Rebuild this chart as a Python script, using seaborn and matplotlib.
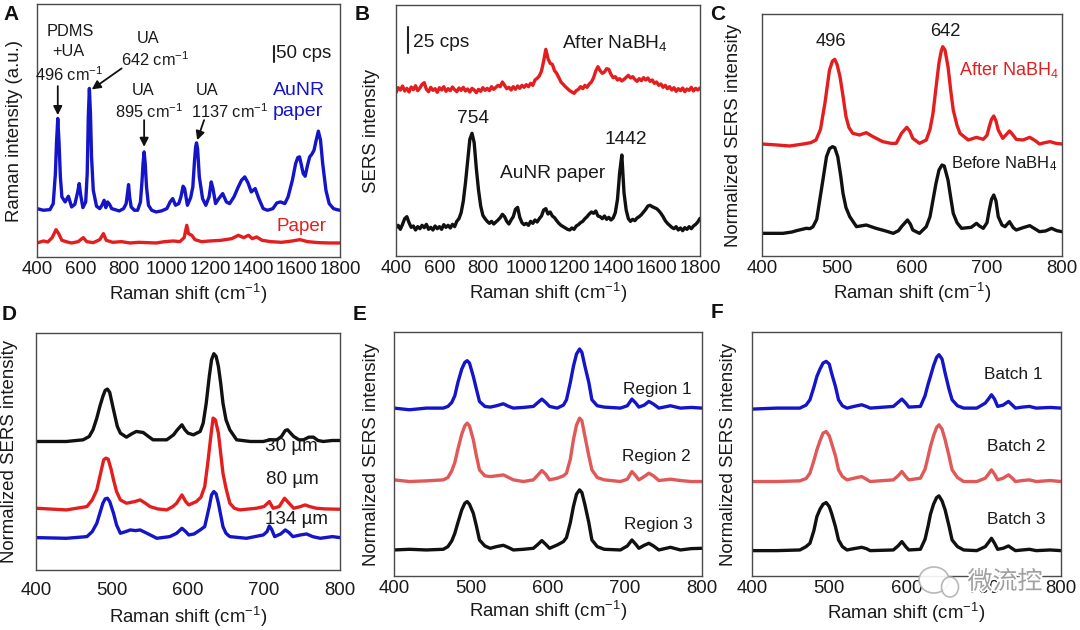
import numpy as np
import matplotlib
matplotlib.use("Agg")
import matplotlib.pyplot as plt
import matplotlib.patheffects as pe
from matplotlib.patches import Ellipse
import seaborn as sns

# ---------------- DATA (intensities in arbitrary units) ----------------
# Panel A
a_blue_x = [400,430,460,475,485,490,496,502,508,515,530,545,560,575,588,595,602,612,625,632,637,642,647,652,660,
            675,690,700,710,718,726,735,745,760,780,800,812,818,823,828,835,850,865,878,885,890,895,900,906,915,
            930,950,975,1000,1015,1027,1040,1055,1065,1075,1082,1095,1110,1120,1128,1133,1137,1142,1150,1165,
            1180,1195,1205,1213,1225,1240,1258,1275,1290,1310,1330,1345,1360,1375,1390,1408,1425,1445,1465,1490,
            1508,1525,1545,1560,1580,1595,1605,1613,1620,1630,1639,1650,1660,1670,1680,1690,1700,1710,1720,1735,
            1750,1770,1785,1800]
a_blue_y = [145,140,142,160,250,340,415,340,240,180,165,182,150,158,195,220,185,148,165,250,420,505,430,300,200,
            152,145,155,170,148,165,158,145,142,138,145,160,190,217,180,150,140,140,165,225,280,315,280,210,155,
            140,135,138,145,165,175,155,160,180,212,205,155,178,210,290,330,342,325,240,175,
            155,180,225,205,160,175,190,165,160,180,210,230,240,222,195,205,175,145,140,145,
            162,165,160,180,230,280,298,300,280,250,242,275,300,308,320,350,377,350,280,200,
            160,145,142,140]
a_red_x = [400,430,450,470,488,500,515,540,560,590,614,630,660,690,707,720,750,790,830,870,910,950,990,1030,1060,
           1080,1092,1100,1115,1130,1160,1200,1250,1300,1330,1355,1377,1395,1415,1440,1480,1530,1580,1615,1650,
           1700,1750,1800]
a_red_y = [42,48,45,58,82,70,50,45,42,46,58,46,43,52,70,50,44,46,42,44,43,42,46,48,46,
           58,95,70,65,52,46,48,50,55,65,58,65,55,60,50,46,44,48,52,46,
           43,42,42]

# Panel B (sampled every 10 cm-1 from 400 to 1800)
b_x = np.arange(400, 1801, 10)
b_red_y = [490,505,498,510,495,503,492,507,499,511,
           496,504,515,520,500,493,506,497,502,491,
           505,498,508,494,502,496,507,499,493,504,
           497,506,495,501,492,503,498,490,500,494,
           505,497,503,496,508,500,506,512,508,522,
           512,502,506,498,508,500,510,503,512,506,
           514,508,518,512,528,533,540,555,585,620,
           592,578,575,556,548,535,522,515,508,502,
           496,492,488,496,500,508,502,512,506,516,
           522,535,555,568,556,548,552,562,560,545,
           535,538,528,532,525,530,536,542,534,538,
           530,524,532,526,535,528,534,524,528,518,
           522,512,516,506,512,502,508,498,505,494,
           502,496,504,493,501,497,506,495,503,498,
           504]
b_black_y = [85,92,80,95,112,118,100,86,90,78,
             88,82,92,85,95,80,86,78,90,82,
             88,80,94,86,92,84,95,88,104,112,
             130,165,220,285,350,368,340,262,198,150,
             122,112,104,98,104,96,102,108,115,125,
             118,104,96,108,118,140,146,116,100,94,
             98,92,104,98,108,102,112,120,138,142,
             126,132,120,115,106,98,92,88,84,80,
             78,84,80,90,94,100,104,112,118,126,
             132,128,135,120,118,112,120,110,116,108,
             114,130,170,250,303,190,138,112,104,110,
             106,114,118,124,132,140,150,152,148,145,
             142,136,128,118,106,98,92,86,82,88,
             78,84,76,85,80,88,82,90,95,102,
             113]

# Panel C
c_red_x = [400,420,437,455,465,472,478,484,490,494,497,500,504,508,512,516,521,530,539,548,561,572,579,586,593,597,
           601,610,619,624,628,632,636,639,641,644,648,652,655,660,664,675,686,695,700,703,706,709,712,715,721,726,
           730,734,739,748,757,765,770,777,784,792,800]
c_red_y = [336,333,330,336,340,348,380,460,558,585,590,575,538,480,418,385,368,363,370,358,343,338,338,368,386,375,
           353,338,348,380,428,505,580,615,628,618,568,490,438,392,368,348,356,350,362,388,410,420,405,378,353,365,
           375,365,350,348,356,345,336,340,343,338,336]
c_black_x = [400,415,428,440,446,459,464,468,473,477,481,486,490,494,497,501,505,508,512,517,526,539,552,565,575,582,
             586,594,598,601,610,619,624,628,632,636,640,643,648,652,655,660,666,679,686,690,695,700,703,706,709,712,
             715,720,724,730,735,739,748,757,765,770,778,786,793,800]
c_black_y = [68,68,68,72,76,83,82,88,110,168,225,298,322,328,325,298,240,188,145,118,88,93,83,75,68,76,
             88,108,95,78,68,88,118,168,218,258,273,270,228,170,128,100,83,86,98,90,83,100,138,170,183,165,
             118,93,88,103,85,78,85,91,80,73,75,83,76,73]

# Panel D
d_black_x = [400,440,462,470,475,480,484,488,491,494,497,502,507,511,519,526,532,541,548,554,572,581,586,592,596,600,
             607,616,620,624,628,631,634,637,640,643,646,650,655,664,682,699,708,717,723,728,731,735,739,746,752,759,
             765,771,778,790,800]
d_black_y = [385,385,390,400,420,455,490,520,538,542,532,480,430,410,398,408,415,412,400,390,390,405,420,435,420,410,
             405,415,440,500,580,630,648,640,610,560,500,450,420,390,385,385,390,390,400,418,420,410,400,390,390,398,
             398,388,385,388,388]
d_red_x = [400,440,467,474,480,485,489,492,495,499,502,506,511,519,530,537,544,550,560,572,580,585,592,597,601,611,
           617,622,626,630,633,636,640,643,646,650,655,661,668,690,700,707,712,720,727,733,739,748,754,760,769,780,800]
d_red_y = [185,180,190,210,240,290,330,335,332,300,270,235,210,200,205,210,200,190,183,180,190,200,225,205,195,205,
           218,250,320,400,455,450,410,350,290,245,200,185,180,185,190,205,185,190,215,200,185,190,195,190,185,183,182]
d_blue_x = [400,440,467,474,480,484,488,491,494,497,502,506,511,518,524,531,537,546,559,576,585,592,597,601,608,616,
            622,625,628,631,634,637,640,643,646,650,655,677,699,704,707,710,714,722,728,733,738,748,756,764,774,790,800]
d_blue_y = [97,95,100,115,140,170,200,213,215,205,170,135,110,115,120,118,120,110,95,100,110,125,115,105,108,120,
            130,160,190,225,235,228,200,165,130,110,100,95,105,115,132,122,100,108,120,112,100,105,108,100,95,100,97]

# Panel E
e_x = [400,420,442,464,470,475,479,483,488,492,495,498,503,507,511,518,525,533,542,549,555,568,581,587,592,597,602,
       612,620,624,629,633,637,641,644,648,653,657,664,673,694,703,709,714,718,725,731,737,744,759,772,786,800]
e_blue_y = [503,498,503,503,508,520,540,580,620,640,645,638,598,560,523,508,506,510,516,508,503,505,508,520,530,520,508,
            503,512,528,580,628,665,680,670,628,580,528,510,506,503,510,530,518,506,512,523,515,503,510,503,505,503]
e_pink_y = [288,283,285,288,295,315,340,380,425,450,458,450,408,360,318,300,298,300,303,295,288,283,288,303,316,305,288,
            293,300,308,350,408,452,473,465,418,360,318,295,288,283,290,313,300,288,298,308,300,286,290,286,283,283]
e_black_y = [78,80,78,80,88,105,128,160,198,218,223,215,188,150,108,90,83,88,92,85,78,80,83,95,106,95,83,
             93,103,115,160,208,245,258,250,213,160,108,88,80,78,90,108,95,83,92,98,90,78,86,78,82,83]

# Panel F
f_x = [400,432,462,470,475,480,484,488,492,496,500,503,508,512,517,523,532,542,548,553,583,589,594,599,603,618,624,
       628,631,635,639,642,646,650,655,659,666,674,691,702,706,710,714,718,725,732,737,741,750,759,768,786,800]
f_blue_y = [500,503,503,512,528,565,598,620,638,643,635,608,568,528,510,503,508,513,508,503,508,520,530,518,506,508,540,
            575,598,630,655,663,650,608,560,528,510,503,503,518,530,543,530,508,512,523,512,503,506,508,503,505,503]
f_pink_y = [283,283,285,292,308,345,378,405,428,433,420,398,360,318,298,288,293,298,290,283,288,300,313,298,288,293,320,
            358,388,420,445,453,440,408,360,318,295,283,283,293,305,318,305,288,293,303,293,283,286,288,283,286,283]
f_black_y = [76,76,78,88,98,135,178,200,215,220,208,188,148,108,88,78,82,86,82,76,78,90,103,88,78,80,110,
             150,185,215,235,240,225,198,150,108,88,78,76,88,100,113,98,80,83,90,82,76,78,80,76,78,76]

xticks_wide = [400, 600, 800, 1000, 1200, 1400, 1600, 1800]
xticks_narrow = [400, 500, 600, 700, 800]

# ---------------- STYLE ----------------
sns.set_style("white")
plt.rcParams['font.family'] = ['Liberation Sans', 'DejaVu Sans']
plt.rcParams['mathtext.fontset'] = 'custom'
plt.rcParams['mathtext.rm'] = 'Liberation Sans'
plt.rcParams['mathtext.it'] = 'Liberation Sans:italic'
plt.rcParams['mathtext.default'] = 'regular'

BLUE = '#1414c8'
RED = '#e41e1e'
PINK = '#e05858'
BLACK = '#111111'
FRAME = '#4a4a4a'
TXT = '#1a1a1a'
LW = 2.4
FS = 13.4

W, H = 1080, 630
fig = plt.figure(figsize=(W / 100, H / 100), dpi=100)


def add_ax(l, r, t, b):
    return fig.add_axes([l / W, 1 - b / H, (r - l) / W, (b - t) / H])


def style(ax, xlim, ylim, xticks, yticks, ylabel, ylx, tpad=3.0, lpad=3.0):
    ax.set_xlim(*xlim)
    ax.set_ylim(*ylim)
    ax.set_xticks(xticks)
    ax.set_yticks(yticks)
    ax.tick_params(axis='both', direction='in', length=4, width=1, color=FRAME,
                   labelsize=FS, labelcolor=TXT, pad=tpad)
    ax.tick_params(axis='y', labelleft=False)
    for s in ax.spines.values():
        s.set_color(FRAME)
        s.set_linewidth(1.0)
    ax.set_xlabel('Raman shift (cm$^{\u2212 1}$)', fontsize=FS, color=TXT, labelpad=lpad)
    ax.set_ylabel(ylabel, fontsize=FS, color=TXT)
    ax.yaxis.set_label_coords(ylx, 0.5)


def curve(ax, x, y, color):
    sns.lineplot(x=np.asarray(x), y=np.asarray(y), ax=ax, color=color, linewidth=LW,
                 estimator=None, sort=False)


# ---- Panel A ----
axA = add_ax(37, 340, 4, 257)
curve(axA, a_red_x, a_red_y, RED)
curve(axA, a_blue_x, a_blue_y, BLUE)
style(axA, (400, 1800), (0, 758), xticks_wide, [80, 239, 398, 557], 'Raman intensity (a.u.)', -0.046)
tk = dict(fontsize=11.8, color=TXT, ha='center', va='center')
axA.text(553, 675, 'PDMS', **tk)
axA.text(545, 615, '+UA', **tk)
axA.text(547, 545, '496 cm$^{\u2212 1}$', **tk)
axA.text(915, 655, 'UA', **tk)
axA.text(948, 590, '642 cm$^{\u2212 1}$', **tk)
axA.text(892, 500, 'UA', **tk)
axA.text(920, 435, '895 cm$^{\u2212 1}$', **tk)
axA.text(1187, 500, 'UA', **tk)
axA.text(1292, 435, '1137 cm$^{\u2212 1}$', **tk)
ap = dict(arrowstyle='-|>', color='#111111', lw=1.3, mutation_scale=13, shrinkA=0, shrinkB=0)
axA.annotate('', xy=(496, 425), xytext=(496, 512), arrowprops=ap)
axA.annotate('', xy=(653, 502), xytext=(791, 565), arrowprops=ap)
axA.annotate('', xy=(895, 330), xytext=(895, 410), arrowprops=ap)
axA.annotate('', xy=(1140, 350), xytext=(1172, 410), arrowprops=ap)
axA.plot([1495, 1495], [585, 632], color='#222222', lw=1.5)
axA.text(1505, 610, '50 cps', fontsize=13.5, color=TXT, ha='left', va='center')
axA.text(1489, 500, 'AuNR', fontsize=14, color=BLUE, ha='left', va='center')
axA.text(1489, 435, 'paper', fontsize=14, color=BLUE, ha='left', va='center')
axA.text(1508, 90, 'Paper', fontsize=13.5, color=RED, ha='left', va='center')

# ---- Panel B ----
axB = add_ax(396, 700, 5, 256)
curve(axB, b_x, b_red_y, RED)
curve(axB, b_x, b_black_y, BLACK)
style(axB, (400, 1800), (0, 753), xticks_wide, [180, 360, 540], 'SERS intensity', -0.053)
axB.plot([457, 457], [608, 688], color='#222222', lw=1.5)
axB.text(476, 640, '25 cps', fontsize=13.8, color=TXT, ha='left', va='center')
axB.text(1166, 640, 'After NaBH$_4$', fontsize=13.8, color=TXT, ha='left', va='center')
axB.text(753, 413, '754', fontsize=13.8, color=TXT, ha='center', va='center')
axB.text(1458, 348, '1442', fontsize=13.8, color=TXT, ha='center', va='center')
axB.text(879, 246, 'AuNR paper', fontsize=13.8, color=TXT, ha='left', va='center')

# ---- Panel C ----
axC = add_ax(762, 1062, 14, 256)
curve(axC, c_red_x, c_red_y, RED)
curve(axC, c_black_x, c_black_y, BLACK)
style(axC, (400, 800), (0, 726), xticks_narrow, [196, 328, 460, 593], 'Normalized SERS intensity', -0.067)
axC.text(492, 643, '496', fontsize=13.2, color=TXT, ha='center', va='center')
axC.text(644, 673, '642', fontsize=13.2, color=TXT, ha='center', va='center')
axC.text(663, 558, 'After NaBH$_4$', fontsize=13, color=RED, ha='left', va='center')
axC.text(652, 278, 'Before NaBH$_4$', fontsize=12, color=TXT, ha='left', va='center')

# ---- Panel D ----
axD = add_ax(36, 340, 333, 570)
curve(axD, d_black_x, d_black_y, BLACK)
curve(axD, d_red_x, d_red_y, RED)
curve(axD, d_blue_x, d_blue_y, BLUE)
style(axD, (400, 800), (0, 710), xticks_narrow, [160, 315, 470, 625], 'Normalized SERS intensity', -0.058,
      tpad=8.5, lpad=4.5)
axD.text(701, 370, '30 \u00b5m', fontsize=13.6, color=TXT, ha='left', va='center')
axD.text(702, 270, '80 \u00b5m', fontsize=13.6, color=TXT, ha='left', va='center')
axD.text(701, 150, '134 \u00b5m', fontsize=13.6, color=TXT, ha='left', va='center')

# ---- Panel E ----
axE = add_ax(394, 702, 332, 576)
curve(axE, e_x, e_blue_y, BLUE)
curve(axE, e_x, e_pink_y, PINK)
curve(axE, e_x, e_black_y, BLACK)
style(axE, (400, 800), (0, 731), xticks_narrow, [220, 366, 510, 656], 'Normalized SERS intensity', -0.045,
      tpad=3.0, lpad=1.5)
axE.text(698, 560, 'Region 1', fontsize=12.3, color=TXT, ha='left', va='center')
axE.text(696, 358, 'Region 2', fontsize=12.3, color=TXT, ha='left', va='center')
axE.text(699, 153, 'Region 3', fontsize=12.3, color=TXT, ha='left', va='center')

# ---- Panel F ----
axF = add_ax(752, 1061, 332, 576)
curve(axF, f_x, f_blue_y, BLUE)
curve(axF, f_x, f_pink_y, PINK)
curve(axF, f_x, f_black_y, BLACK)
style(axF, (400, 800), (0, 731), xticks_narrow, [220, 366, 510, 656], 'Normalized SERS intensity', -0.049,
      tpad=3.0, lpad=2.5)
axF.text(700, 603, 'Batch 1', fontsize=12.4, color=TXT, ha='left', va='center')
axF.text(704, 388, 'Batch 2', fontsize=12.4, color=TXT, ha='left', va='center')
axF.text(704, 170, 'Batch 3', fontsize=12.4, color=TXT, ha='left', va='center')

# panel letters
for lab, px, py in [('A', 11, 15), ('B', 362, 15), ('C', 718, 14), ('D', 9, 315), ('E', 360, 315), ('F', 717, 313)]:
    fig.text(px / W, 1 - py / H, lab, fontsize=15, fontweight='bold', color='#111111', ha='center', va='center')

# watermark (icon + text), drawn over the figure like the reference
for (cx, cy, ew, eh) in [(934, 580, 30, 26), (950, 587, 17, 20)]:
    fig.patches.append(Ellipse((cx / W, 1 - cy / H), ew / W, eh / H, transform=fig.transFigure,
                               facecolor='white', edgecolor='#b0b0b0', lw=1.2, alpha=0.9, zorder=10))
fig.text(1005 / W, 1 - 582 / H, '微流控', fontsize=18, color='#a0a0a0', ha='center', va='center', zorder=11,
         family=['Noto Sans CJK SC', 'DejaVu Sans'],
         path_effects=[pe.withStroke(linewidth=2.5, foreground='white')])

fig.savefig('out.png', dpi=100)
